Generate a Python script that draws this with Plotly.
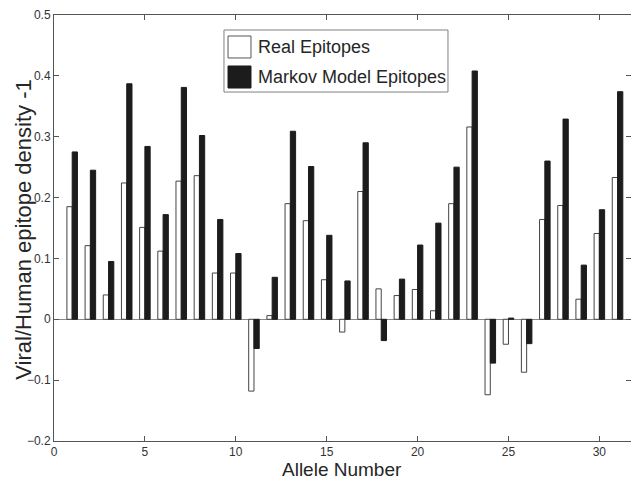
import plotly.graph_objects as go

alleles = list(range(1, 32))
real_epitopes = [0.185, 0.121, 0.040, 0.224, 0.151, 0.112, 0.227, 0.236, 0.076, 0.076,
                 -0.118, 0.006, 0.190, 0.162, 0.065, -0.021, 0.210, 0.050, 0.039, 0.049,
                 0.014, 0.190, 0.316, -0.124, -0.041, -0.087, 0.164, 0.187, 0.033, 0.141,
                 0.233]
markov_epitopes = [0.275, 0.245, 0.095, 0.387, 0.284, 0.172, 0.381, 0.302, 0.164, 0.108,
                   -0.048, 0.069, 0.309, 0.251, 0.138, 0.063, 0.290, -0.035, 0.066, 0.122,
                   0.158, 0.250, 0.408, -0.072, 0.002, -0.040, 0.260, 0.329, 0.089, 0.180,
                   0.374]
y_ticks = [-0.2, -0.1, 0, 0.1, 0.2, 0.3, 0.4, 0.5]
y_tick_text = ["\u22120.2", "\u22120.1", "0", "0.1", "0.2", "0.3", "0.4", "0.5"]
x_ticks = [0, 5, 10, 15, 20, 25, 30]
series_names = ["Real Epitopes", "Markov Model Epitopes"]
series_fill = ["white", "#1c1c1c"]
series_edge = ["#444444", "#1c1c1c"]

FONT = "Liberation Sans, Arial, sans-serif"
AX = "#555555"
TXT = "#262626"

fig = go.Figure()
for vals, name, fill, edge in zip([real_epitopes, markov_epitopes], series_names,
                                  series_fill, series_edge):
    fig.add_trace(go.Bar(x=alleles, y=vals, name=name, showlegend=False,
                         marker=dict(color=fill, line=dict(color=edge, width=1))))

# legend box drawn in paper coordinates (MATLAB style, large swatches)
shapes = [dict(type="rect", xref="paper", yref="paper", x0=0.2946, x1=0.6828,
               y0=0.8192, y1=0.9648, line=dict(color="#808080", width=1),
               fillcolor="white", layer="above")]
sw_y = [(0.8991, 0.9507), (0.8286, 0.8803)]
txt_y = [0.9249, 0.8545]
annotations = []
for (y0, y1), ty, name, fill, edge in zip(sw_y, txt_y, series_names, series_fill, series_edge):
    shapes.append(dict(type="rect", xref="paper", yref="paper", x0=0.3016, x1=0.3414,
                       y0=y0, y1=y1, line=dict(color=edge if fill != "white" else "#555555", width=1),
                       fillcolor=fill, layer="above"))
    annotations.append(dict(text=name, xref="paper", yref="paper", x=0.3501, y=ty,
                            xanchor="left", yanchor="middle", showarrow=False,
                            font=dict(family=FONT, size=18, color=TXT)))

annotations.append(dict(text="Allele Number", xref="paper", yref="paper", x=0.499, y=-0.068,
                        xanchor="center", yanchor="middle", showarrow=False,
                        font=dict(family=FONT, size=19, color=TXT)))
annotations.append(dict(text="Viral/Human epitope density -1", xref="paper", yref="paper",
                        x=-0.053, y=0.497, xanchor="center", yanchor="middle", textangle=-90,
                        showarrow=False, font=dict(family=FONT, size=22, color=TXT)))

fig.update_layout(
    width=631, height=485,
    margin=dict(l=54, r=0, t=15, b=44, autoexpand=False),
    paper_bgcolor="white", plot_bgcolor="white",
    barmode="group", bargap=0.42, bargroupgap=0.0,
    showlegend=False,
    shapes=shapes, annotations=annotations,
    xaxis=dict(range=[0, 31.74], tickmode="array", tickvals=x_ticks,
               showline=True, mirror="ticks", linecolor=AX, linewidth=1,
               ticks="inside", ticklen=5, tickcolor=AX, showgrid=False, zeroline=False,
               automargin=False,
               tickfont=dict(family=FONT, size=12, color="#333333")),
    yaxis=dict(range=[-0.2, 0.5], tickmode="array", tickvals=y_ticks, ticktext=y_tick_text,
               showline=True, mirror="ticks", linecolor=AX, linewidth=1,
               ticks="inside", ticklen=5, tickcolor=AX, showgrid=False,
               zeroline=True, zerolinecolor="#888888", zerolinewidth=1,
               automargin=False,
               tickfont=dict(family=FONT, size=12, color="#333333")),
)

fig.write_html("out.html", config={"displayModeBar": False},
               post_script="document.body.style.margin='0';document.body.style.padding='0';"
                           "document.body.style.overflow='hidden';")
